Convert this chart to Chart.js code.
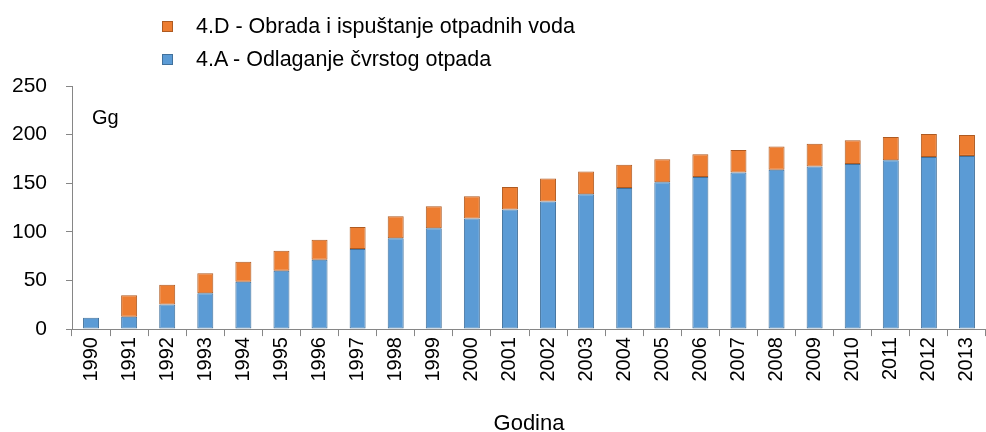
<!DOCTYPE html>
<html>
<head>
<meta charset="utf-8">
<script src="https://cdn.jsdelivr.net/npm/chart.js@4/dist/chart.umd.min.js"></script>
<style>
  html, body { margin: 0; padding: 0; background: #fff; }
  #wrap { position: relative; width: 986px; height: 432px; }
  #legend {
    position: absolute; left: 162px; top: 10px;
    font-family: "Liberation Sans", Arial, sans-serif; font-size: 21.5px; color: #000;
  }
  #legend .item { display: flex; align-items: center; height: 33px; }
  #legend .box { width: 9px; height: 9px; margin-right: 23px; border: 1px solid; }
</style>
</head>
<body>
<div id="wrap">
  <canvas id="chart" width="986" height="432"></canvas>
  <div id="legend"></div>
</div>
<script>
// Emisije iz otpada po godinama (Gg)
const godine = ['1990', '1991', '1992', '1993', '1994', '1995', '1996', '1997', '1998', '1999', '2000', '2001',
  '2002', '2003', '2004', '2005', '2006', '2007', '2008', '2009', '2010', '2011', '2012', '2013'];
const cvrstiOtpad = [11.8, 12.6, 25.3, 37.0, 48.6, 60.0, 71.2, 82.5, 93.5, 103.8, 113.7, 123.0,
  131.2, 138.7, 145.2, 151.0, 156.5, 161.0, 164.0, 167.1, 169.9, 173.6, 177.0, 178.1];
const otpadneVode = [0, 22.3, 20.2, 20.5, 20.6, 20.5, 20.6, 22.6, 22.6, 22.6, 22.9, 23.2,
  23.6, 23.3, 23.7, 23.7, 23.3, 23.3, 23.8, 23.5, 24.2, 24.0, 23.7, 21.5];
const yTicks = [0, 50, 100, 150, 200, 250];

const fontFamily = '"Liberation Sans", Arial, sans-serif';
const axisColor = '#868686';

// oznaka jedinice unutar grafikona
const jedinica = {
  id: 'jedinica',
  afterDraw(chart) {
    const ctx = chart.ctx;
    ctx.save();
    ctx.font = '20px ' + fontFamily;
    ctx.fillStyle = '#000';
    ctx.textBaseline = 'middle';
    ctx.fillText('Gg', chart.chartArea.left + 20, chart.chartArea.top + 32);
    ctx.restore();
  }
};

const chart = new Chart(document.getElementById('chart'), {
  type: 'bar',
  data: {
    labels: godine,
    datasets: [
      {
        label: '4.A - Odlaganje čvrstog otpada',
        data: cvrstiOtpad,
        backgroundColor: '#5B9BD5',
        borderColor: '#41719C',
        borderWidth: 1,
        borderSkipped: false
      },
      {
        label: '4.D - Obrada i ispuštanje otpadnih voda',
        data: otpadneVode,
        backgroundColor: '#ED7D31',
        borderColor: '#AE5A21',
        borderWidth: 1,
        borderSkipped: false
      }
    ]
  },
  options: {
    responsive: false,
    animation: false,
    layout: { padding: { top: 86, left: 8, right: 0, bottom: -5 } },
    datasets: { bar: { categoryPercentage: 1, barPercentage: 0.42 } },
    plugins: {
      legend: { display: false },
      tooltip: { enabled: false }
    },
    scales: {
      x: {
        stacked: true,
        // os ide do samog desnog ruba
        afterFit(scale) { scale.paddingLeft = 0; scale.paddingRight = 0; },
        grid: { drawOnChartArea: false, color: axisColor, tickLength: 7 },
        border: { color: axisColor },
        ticks: { font: { family: fontFamily, size: 20 }, color: '#000', minRotation: 90, maxRotation: 90, padding: 1 },
        title: {
          display: true, text: 'Godina', color: '#000',
          font: { family: fontFamily, size: 22 }, padding: { top: 28, bottom: 0 }
        }
      },
      y: {
        stacked: true,
        min: 0,
        max: 250,
        afterBuildTicks(scale) { scale.ticks = yTicks.map(v => ({ value: v })); },
        afterFit(scale) { scale.width = 64; },
        grid: { drawOnChartArea: false, color: axisColor, tickLength: 6 },
        border: { color: axisColor },
        ticks: { font: { family: fontFamily, size: 21 }, color: '#000', padding: 19 }
      }
    }
  },
  plugins: [jedinica]
});

// legenda, obrnutim redoslijedom kao i stupci
const legend = document.getElementById('legend');
chart.data.datasets.slice().reverse().forEach(ds => {
  const item = document.createElement('div');
  item.className = 'item';
  item.innerHTML = '<span class="box" style="background:' + ds.backgroundColor + ';border-color:' + ds.borderColor + '"></span>' + ds.label;
  legend.appendChild(item);
});
</script>
</body>
</html>
